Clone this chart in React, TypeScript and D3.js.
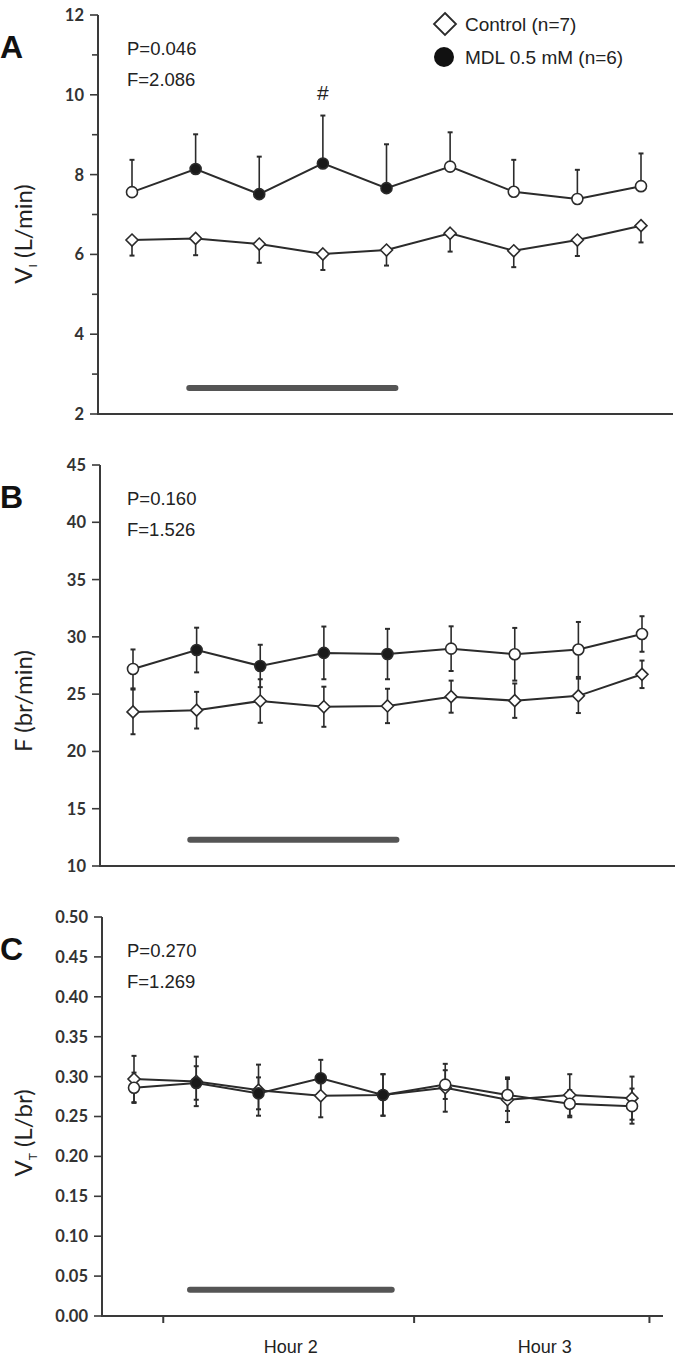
import React from 'react';
import * as d3 from 'd3';

// ---------- data ----------
const sampleIdx = [0, 1, 2, 3, 4, 5, 6, 7, 8];
const mdlFilled = [false, true, true, true, true, false, false, false, false];

// Panel A: VI (L/min)
const viControl = [6.36, 6.40, 6.26, 6.01, 6.11, 6.53, 6.09, 6.36, 6.72];
const viControlSem = [0.39, 0.42, 0.47, 0.40, 0.39, 0.46, 0.41, 0.40, 0.42];
const viMdl = [7.56, 8.14, 7.51, 8.28, 7.66, 8.20, 7.57, 7.39, 7.71];
const viMdlSem = [0.81, 0.87, 0.94, 1.20, 1.10, 0.86, 0.80, 0.73, 0.82];

// Panel B: F (br/min)
const fControl = [23.45, 23.6, 24.4, 23.9, 23.97, 24.78, 24.43, 24.85, 26.73];
const fControlSem = [1.95, 1.6, 1.9, 1.75, 1.5, 1.4, 1.5, 1.5, 1.2];
const fMdl = [27.2, 28.85, 27.46, 28.6, 28.5, 28.97, 28.48, 28.9, 30.25];
const fMdlSem = [1.7, 1.95, 1.85, 2.3, 2.2, 1.95, 2.3, 2.4, 1.55];

// Panel C: VT (L/br)
const vtControl = [0.297, 0.294, 0.283, 0.276, 0.277, 0.286, 0.271, 0.277, 0.273];
const vtControlSem = [0.029, 0.031, 0.032, 0.027, 0.026, 0.030, 0.028, 0.026, 0.027];
const vtMdl = [0.286, 0.292, 0.279, 0.298, 0.277, 0.290, 0.277, 0.266, 0.263];
const vtMdlSem = [0.019, 0.021, 0.020, 0.023, 0.026, 0.018, 0.020, 0.017, 0.022];

const drugPeriod = [0.9, 4.14];
const hourTicks = [0.47, 4.5, 8.28];
const hourLabels = ['Hour 2', 'Hour 3'];
const hourLabelPos = [2.52, 6.6];
const legendLabels = ['Control (n=7)', 'MDL 0.5 mM (n=6)'];

// ---------- styles ----------
const LINE = '#2b2b2b';
const AXIS = '#3a3a3a';
const TICKFONT = 'Lato, "DejaVu Sans", sans-serif';
const ARIAL = '"Liberation Sans", Arial, sans-serif';

type PanelCfg = {
  letter: string;
  stats: [string, string];
  control: number[];
  controlSem: number[];
  mdl: number[];
  mdlSem: number[];
  errMode: 'split' | 'both';
  yDomain: [number, number];
  yTicks: number[];
  yLabelTicks: number[];
  yFormat: (v: number) => string;
  barValue: number;
  axisX: number;
  axisRight: number;
  px0: number;
  px1: number;
  yTop: number;
  yBottom: number;
  labelMain: string;
  labelSub: string;
  labelRest: string;
  labelCy: number;
  showXTicks: boolean;
  hashAt?: number;
};

const panels: PanelCfg[] = [
  {
    letter: 'A', stats: ['P=0.046', 'F=2.086'],
    control: viControl, controlSem: viControlSem, mdl: viMdl, mdlSem: viMdlSem,
    errMode: 'split', yDomain: [2, 12],
    yTicks: d3.range(2, 12.001, 1), yLabelTicks: [2, 4, 6, 8, 10, 12],
    yFormat: d3.format('d'), barValue: 2.65,
    axisX: 98, axisRight: 673, px0: 132, px1: 641, yTop: 15, yBottom: 414,
    labelMain: 'V', labelSub: 'I', labelRest: ' (L/min)', labelCy: 234,
    showXTicks: false, hashAt: 3,
  },
  {
    letter: 'B', stats: ['P=0.160', 'F=1.526'],
    control: fControl, controlSem: fControlSem, mdl: fMdl, mdlSem: fMdlSem,
    errMode: 'both', yDomain: [10, 45],
    yTicks: d3.range(10, 45.001, 5), yLabelTicks: d3.range(10, 45.001, 5),
    yFormat: d3.format('d'), barValue: 12.3,
    axisX: 100, axisRight: 675, px0: 133, px1: 642, yTop: 465, yBottom: 866,
    labelMain: 'F', labelSub: '', labelRest: ' (br/min)', labelCy: 701,
    showXTicks: false,
  },
  {
    letter: 'C', stats: ['P=0.270', 'F=1.269'],
    control: vtControl, controlSem: vtControlSem, mdl: vtMdl, mdlSem: vtMdlSem,
    errMode: 'both', yDomain: [0, 0.5],
    yTicks: d3.range(0, 0.5001, 0.05), yLabelTicks: d3.range(0, 0.5001, 0.05),
    yFormat: d3.format('.2f'), barValue: 0.033,
    axisX: 102, axisRight: 663, px0: 134, px1: 632, yTop: 917, yBottom: 1316,
    labelMain: 'V', labelSub: 'T', labelRest: ' (L/br)', labelCy: 1133,
    showXTicks: true,
  },
];

const diamond = (cx: number, cy: number, s: number) =>
  `M${cx},${cy - s}L${cx + s},${cy}L${cx},${cy + s}L${cx - s},${cy}Z`;

function Panel({ cfg }: { cfg: PanelCfg }) {
  const x = d3.scaleLinear().domain([0, 8]).range([cfg.px0, cfg.px1]);
  const y = d3.scaleLinear().domain(cfg.yDomain).range([cfg.yBottom, cfg.yTop]);
  const line = d3
    .line<number>()
    .x((_, i) => x(sampleIdx[i]))
    .y((d) => y(d));
  const isLabeled = (t: number) => cfg.yLabelTicks.some((l) => Math.abs(l - t) < 1e-9);
  const cap = 2.5;

  const errBars = (vals: number[], sem: number[], dir: 'up' | 'down' | 'both', key: string) =>
    vals.map((v, i) => {
      const cx = x(sampleIdx[i]);
      const top = dir === 'down' ? v : v + sem[i];
      const bot = dir === 'up' ? v : v - sem[i];
      return (
        <g key={key + i} stroke={LINE} strokeWidth={1.6}>
          <line x1={cx} x2={cx} y1={y(top)} y2={y(bot)} />
          {dir !== 'down' && <line x1={cx - cap} x2={cx + cap} y1={y(top)} y2={y(top)} strokeWidth={2} />}
          {dir !== 'up' && <line x1={cx - cap} x2={cx + cap} y1={y(bot)} y2={y(bot)} strokeWidth={2} />}
        </g>
      );
    });

  return (
    <g>
      {/* panel letter */}
      <text x={0} y={cfg.yTop + 43} fontFamily={ARIAL} fontWeight="bold" fontSize={32} fill="#111">
        {cfg.letter}
      </text>
      {/* y label */}
      <text
        transform={`translate(32,${cfg.labelCy}) rotate(-90)`}
        textAnchor="middle"
        fontFamily={TICKFONT}
        fontSize={24}
        fill="#222"
      >
        {cfg.labelMain}
        {cfg.labelSub && (
          <tspan fontSize={12} dy={5}>
            {cfg.labelSub}
          </tspan>
        )}
        <tspan dy={cfg.labelSub ? -5 : 0}>{cfg.labelRest}</tspan>
      </text>
      {/* stats */}
      <text x={127} y={cfg.yTop + 40} fontFamily={ARIAL} fontSize={18.5} fill="#222">
        {cfg.stats[0]}
      </text>
      <text x={127} y={cfg.yTop + 71} fontFamily={ARIAL} fontSize={18.5} fill="#222">
        {cfg.stats[1]}
      </text>
      {/* axes */}
      <line x1={cfg.axisX} x2={cfg.axisX} y1={cfg.yTop} y2={cfg.yBottom} stroke={AXIS} strokeWidth={2} />
      <line x1={cfg.axisX - 1} x2={cfg.axisRight} y1={cfg.yBottom} y2={cfg.yBottom} stroke={AXIS} strokeWidth={2} />
      {cfg.yTicks.map((t, i) => (
        <g key={'yt' + i}>
          <line
            x1={cfg.axisX - (isLabeled(t) ? 8 : 6)}
            x2={cfg.axisX}
            y1={y(t)}
            y2={y(t)}
            stroke={AXIS}
            strokeWidth={1.6}
          />
          {isLabeled(t) && (
            <text
              x={cfg.axisX - 14}
              y={y(t)}
              dy="0.36em"
              textAnchor="end"
              fontFamily={TICKFONT}
              fontWeight={700}
              fontSize={16.5}
              fill="#333"
            >
              {cfg.yFormat(t)}
            </text>
          )}
        </g>
      ))}
      {cfg.showXTicks && (
        <g>
          {hourTicks.map((t, i) => (
            <line key={'xt' + i} x1={x(t)} x2={x(t)} y1={cfg.yBottom} y2={cfg.yBottom + 7} stroke={AXIS} strokeWidth={2} />
          ))}
          {hourLabels.map((l, i) => (
            <text
              key={'hl' + i}
              x={x(hourLabelPos[i])}
              y={cfg.yBottom + 37}
              textAnchor="middle"
              fontFamily={ARIAL}
              fontSize={18}
              fill="#222"
            >
              {l}
            </text>
          ))}
        </g>
      )}
      {/* drug bar */}
      <line
        x1={x(drugPeriod[0])}
        x2={x(drugPeriod[1])}
        y1={y(cfg.barValue)}
        y2={y(cfg.barValue)}
        stroke="#555"
        strokeWidth={6}
        strokeLinecap="round"
      />
      {/* error bars */}
      {errBars(cfg.control, cfg.controlSem, cfg.errMode === 'split' ? 'down' : 'both', 'ec')}
      {errBars(cfg.mdl, cfg.mdlSem, cfg.errMode === 'split' ? 'up' : 'both', 'em')}
      {/* lines */}
      <path d={line(cfg.control) || ''} fill="none" stroke={LINE} strokeWidth={2} />
      <path d={line(cfg.mdl) || ''} fill="none" stroke={LINE} strokeWidth={2} />
      {/* markers */}
      {cfg.control.map((v, i) => (
        <path key={'dc' + i} d={diamond(x(sampleIdx[i]), y(v), 6)} fill="#fff" stroke={LINE} strokeWidth={1.6} />
      ))}
      {cfg.mdl.map((v, i) => (
        <circle
          key={'cm' + i}
          cx={x(sampleIdx[i])}
          cy={y(v)}
          r={5.5}
          fill={mdlFilled[i] ? '#1a1a1a' : '#fff'}
          stroke={LINE}
          strokeWidth={1.6}
        />
      ))}
      {cfg.hashAt !== undefined && (
        <text
          x={x(sampleIdx[cfg.hashAt])}
          y={y(cfg.mdl[cfg.hashAt] + cfg.mdlSem[cfg.hashAt]) - 16}
          textAnchor="middle"
          fontFamily={ARIAL}
          fontSize={21}
          fill="#222"
        >
          #
        </text>
      )}
    </g>
  );
}

export default function App() {
  return (
    <svg
      width={683}
      height={1359}
      style={{ position: 'absolute', left: 0, top: 0, background: '#fff' }}
    >
      {panels.map((p) => (
        <Panel key={p.letter} cfg={p} />
      ))}
      {/* legend */}
      <path d={diamond(445, 24, 11)} fill="#fff" stroke={LINE} strokeWidth={1.8} />
      <text x={465} y={31} fontFamily={ARIAL} fontSize={19} fill="#222">
        {legendLabels[0]}
      </text>
      <circle cx={444} cy={57} r={10} fill="#111" />
      <text x={465} y={64} fontFamily={ARIAL} fontSize={19} fill="#222">
        {legendLabels[1]}
      </text>
    </svg>
  );
}
